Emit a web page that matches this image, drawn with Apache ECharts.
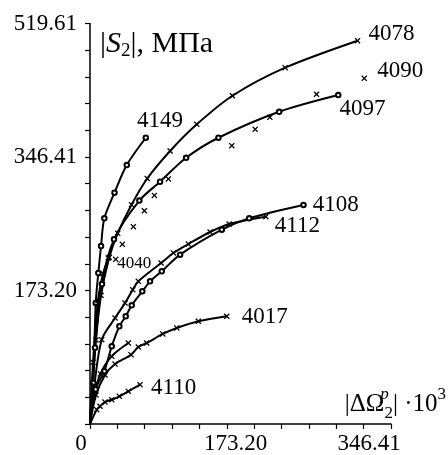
<!DOCTYPE html>
<html>
<head>
<meta charset="utf-8">
<script src="https://cdn.jsdelivr.net/npm/echarts@6/dist/echarts.min.js"></script>
<style>
html, body { margin: 0; padding: 0; background: #fff; }
#chart { width: 448px; height: 455px; }
</style>
</head>
<body>
<div id="chart"></div>
<script>
// axis extents and tick labels
var xMax = 346.41;
var yMax = 519.61;
var xTickLabels = ['0', '173.20', '346.41'];
var yTickLabels = ['173.20', '346.41', '519.61'];

// curves: [|dOmega|*1e3, |S2| MPa]
var c4078 = [[0, 0], [6.9, 109], [12.7, 167], [22.2, 216.3], [31.9, 247.4], [47.8, 284.5], [65.9, 318.5], [92.2, 354.2], [122.9, 388.8], [163.9, 425.9], [224.6, 462.3], [307.9, 497.3]];
var c4090 = [[29.6, 213.7], [37.2, 233.1], [49.9, 256.0], [62.6, 276.7], [74.1, 296.5], [90.2, 317.9], [163.2, 361.1], [190.1, 382.3], [207.0, 397.9], [260.7, 427.8], [315.6, 448.5]];
var c4097 = [[0, 0], [5.8, 99], [13.8, 181.6], [27.6, 239.6], [56.8, 289.9], [80.6, 314.3], [110.6, 345.4], [147.8, 371.4], [217.7, 405.1], [285.7, 426.8]];
var c4149 = [[0, 0], [3.8, 53.2], [6.6, 157.0], [9.6, 195.9], [12.7, 230.9], [16.5, 266.9], [28.2, 300.1], [42.3, 336.0], [64.2, 371.4]];
var c4108 = [[0, 0], [6.5, 45], [16.5, 68.5], [25.0, 100.8], [33.8, 126.7], [41.1, 139.7], [48.0, 154.0], [60.2, 172.1], [69.1, 185.1], [82.6, 198.1], [103.7, 219.7], [151.7, 252.1], [183.2, 266.9], [245.7, 284.2]];
var c4112 = [[0, 0], [5, 50], [13.5, 109.4], [28.8, 137.5], [40.3, 157.0], [49.2, 174.2], [55.6, 185.1], [81.8, 208.9], [96.0, 221.9], [113.3, 233.5], [138.2, 249.1], [160.1, 259.5], [202.4, 269.0]];
var c4040 = [[0, 0], [3.5, 80], [9.2, 160], [15, 195], [21, 215.4]];
var c4017 = [[0, 0], [6.9, 37.6], [17.3, 63.6], [28.8, 77.8], [47.2, 89.9], [55.6, 99.9], [65.3, 105.1], [83.8, 116.8], [99.9, 124.6], [124.7, 133.3], [157.4, 139.8]];
var cExtra = [[0, 0], [4, 35], [12, 65], [25, 88], [44.1, 105.1]];
var c4110 = [[0, 0], [7.7, 18.6], [11.5, 23.0], [17.3, 28.5], [25.0, 31.5], [33.8, 35.9], [44.1, 42.4], [57.6, 51.0]];

var font = 'Liberation Serif';
var cross = 'path://M0,1.5L1.5,0L5,3.5L8.5,0L10,1.5L6.5,5L10,8.5L8.5,10L5,6.5L1.5,10L0,8.5L3.5,5Z';

function curve(name, pts, sym, lab, noLine) {
	var data = pts.map(function(p, i) {
		var item = { value: p };
		if (!noLine && i === 0) item.symbol = 'none';
		if (lab && i === pts.length - 1) {
			item.label = {
				show: true,
				position: 'right',
				distance: lab.d,
				offset: lab.o,
				formatter: name,
				color: '#000',
				fontFamily: font,
				fontSize: lab.fs || 23
			};
		}
		return item;
	});
	var s = {
		name: name,
		type: noLine ? 'scatter' : 'line',
		data: data,
		symbol: sym === 'o' ? 'emptyCircle' : cross,
		symbolSize: sym === 'o' ? 4.5 : 6,
		itemStyle: { color: '#000', borderColor: '#000', borderWidth: sym === 'o' ? 1 : 0, opacity: 1 },
		silent: true,
		z: 3
	};
	if (!noLine) {
		s.showAllSymbol = true;
		s.smooth = 0.3;
		s.lineStyle = { color: '#000', width: 2 };
	}
	return s;
}

var chart = echarts.init(document.getElementById('chart'));
chart.setOption({
	animation: false,
	backgroundColor: '#fff',
	grid: {
		left: 90,
		right: 57,
		top: 23.5,
		bottom: 31,
		containLabel: false,
		outerBoundsMode: 'none'
	},
	xAxis: [{
		type: 'value',
		min: 0,
		max: xMax,
		interval: xMax / 11,
		position: 'bottom',
		axisLine: { lineStyle: { color: '#000', width: 1.5 } },
		axisTick: { show: true, length: 5, lineStyle: { color: '#000', width: 1.2 } },
		axisLabel: { show: false },
		splitLine: { show: false },
		name: '|ΔΩ{pp|p}{sb|2}| ·10{sp|3}',
		nameLocation: 'end',
		nameGap: 55,
		nameTextStyle: {
			color: '#000',
			fontFamily: font,
			fontSize: 25,
			lineHeight: 36,
			align: 'right',
			verticalAlign: 'bottom',
			padding: [0, 0, 2, 0],
			rich: {
				pp: { fontFamily: font, fontSize: 17, fontStyle: 'italic', verticalAlign: 'top', align: 'left', width: 0, color: '#000' },
				sp: { fontFamily: font, fontSize: 17, verticalAlign: 'top', color: '#000' },
				sb: { fontFamily: font, fontSize: 17, verticalAlign: 'bottom', color: '#000' }
			}
		}
	}, {
		type: 'value',
		min: 0,
		max: xMax,
		interval: xMax / 2,
		position: 'bottom',
		offset: 0,
		axisLine: { show: false },
		axisTick: { show: false },
		splitLine: { show: false },
		axisLabel: {
			show: true,
			margin: 8,
			color: '#000',
			fontFamily: font,
			fontSize: 23,
			formatter: function(v) {
				var k = Math.round(v / (xMax / 2));
				return '{l' + k + '|' + xTickLabels[k] + '}';
			},
			rich: {
				l0: { fontFamily: font, fontSize: 23, color: '#000', padding: [0, 18, 0, 0] },
				l1: { fontFamily: font, fontSize: 23, color: '#000', padding: [0, 10, 0, 0] },
				l2: { fontFamily: font, fontSize: 23, color: '#000', padding: [0, 44, 0, 0] }
			}
		}
	}],
	yAxis: {
		type: 'value',
		min: 0,
		max: yMax,
		interval: yMax / 15,
		axisLine: { show: true, lineStyle: { color: '#000', width: 1.5 } },
		axisTick: { show: true, length: 5, lineStyle: { color: '#000', width: 1.2 } },
		splitLine: { show: false },
		axisLabel: {
			margin: 13,
			color: '#000',
			fontFamily: font,
			fontSize: 23,
			formatter: function(v) {
				var k = Math.round(v / (yMax / 15));
				if (k > 0 && k % 5 === 0) return yTickLabels[k / 5 - 1];
				return '';
			}
		},
		name: '|{it|S}{sb|2}|, МПа',
		nameLocation: 'end',
		nameGap: -5,
		nameTextStyle: {
			color: '#000',
			fontFamily: font,
			fontSize: 30,
			lineHeight: 32,
			align: 'left',
			verticalAlign: 'top',
			padding: [0, 0, 0, 10],
			rich: {
				it: { fontFamily: font, fontSize: 30, fontStyle: 'italic', color: '#000' },
				sb: { fontFamily: font, fontSize: 19, verticalAlign: 'bottom', color: '#000' }
			}
		}
	},
	series: [
		curve('4078', c4078, 'x', { d: 8, o: [0, -7] }),
		curve('4090', c4090, 'x', { d: 10, o: [0, -7] }, true),
		curve('4097', c4097, 'o', { d: 0, o: [-2, 14] }),
		curve('4149', c4149, 'o', { d: 0, o: [-12, -17] }),
		curve('4108', c4108, 'o', { d: 6, o: [0, 0] }),
		curve('4112', c4112, 'x', { d: 6, o: [0, 9] }),
		curve('4040', c4040, 'x', { d: 6, o: [0, 6], fs: 17 }),
		curve('4017', c4017, 'x', { d: 12, o: [0, 1] }),
		curve('', cExtra, 'x', null),
		curve('4110', c4110, 'x', { d: 8, o: [0, 3] })
	]
});
</script>
</body>
</html>
